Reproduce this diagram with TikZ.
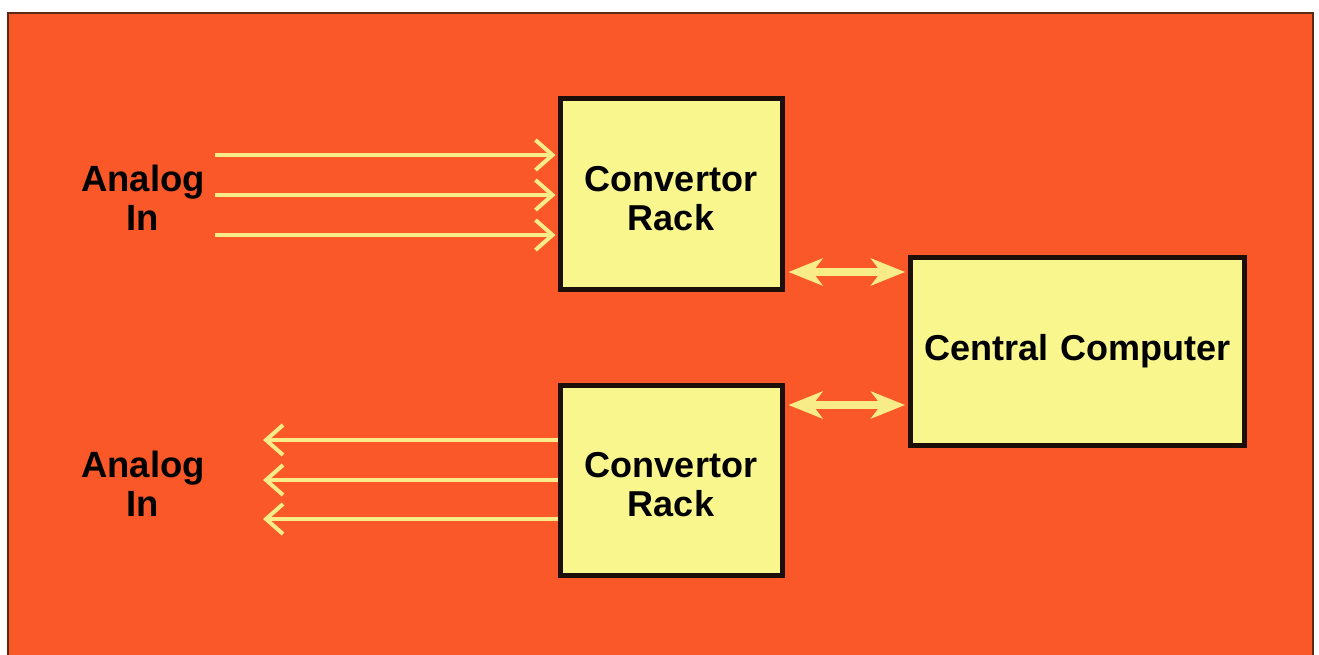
\documentclass[tikz,border=0pt]{standalone}
\usepackage{fontspec}
\setmainfont{Liberation Sans}
\usetikzlibrary{arrows.meta}

\definecolor{panel}{HTML}{FA5828}
\definecolor{panelrim}{HTML}{5A2A14}
\definecolor{boxfill}{HTML}{FAF68E}
\definecolor{boxrim}{HTML}{1C0E08}
\definecolor{wire}{HTML}{F7EC88}

\tikzset{
  unit/.style={draw=boxrim, fill=boxfill, line width=5pt, align=center,
    font=\bfseries\fontsize{36}{39}\selectfont, inner sep=0pt},
  caption/.style={align=center, font=\bfseries\fontsize{36.5}{39}\selectfont,
    text=black, inner sep=0pt},
  signal/.style={draw=wire, line width=3.5pt,
    -{Straight Barb[length=17pt, width=30pt, line width=4pt]}},
  link/.style={draw=wire, line width=8pt,
    {Stealth[length=34pt, width=27pt, inset=10pt]}-{Stealth[length=34pt, width=27pt, inset=10pt]}}
}

\begin{document}
\begin{tikzpicture}[x=1pt, y=-1pt]
  \useasboundingbox (0,0) rectangle (1319,655);
  \clip (0,0) rectangle (1319,655);
  \fill[white] (0,0) rectangle (1319,655);
  \draw[fill=panel, draw=panelrim, line width=1.2pt] (8,13) rectangle (1313,690);

  % converter racks and the central computer
  \node[unit, minimum width=222pt, minimum height=190pt] (rackIn) at (671,194)
    {\rule{0pt}{35pt}Convertor\\Rack};
  \node[unit, minimum width=222pt, minimum height=190pt] (rackOut) at (671,480)
    {\rule{0pt}{35pt}Convertor\\Rack};
  \node[unit, minimum width=334pt, minimum height=188pt] (cpu) at (1077.5,351.5)
    {Central\hspace{0.36em}Computer};

  % side captions
  \node[caption] (capIn) at (143,198) {Analog\\In};
  \node[caption] (capOut) at (143,484) {Analog\\In};

  % incoming analog lines
  \coordinate (i1) at (215,155);
  \coordinate (i2) at (215,195);
  \coordinate (i3) at (215,235);
  \foreach \c in {i1,i2,i3}
    \draw[signal, shorten >=2pt] (\c) -- (\c -| rackIn.west);

  % outgoing analog lines
  \coordinate (o1) at (261,440);
  \coordinate (o2) at (261,480);
  \coordinate (o3) at (261,519);
  \foreach \c in {o1,o2,o3}
    \draw[signal, shorten >=2pt] (\c -| rackOut.west) -- (\c);

  % rack to computer links
  \coordinate (l1) at (0,272);
  \coordinate (l2) at (0,405);
  \draw[link, shorten <=4pt, shorten >=3pt] (l1 -| rackIn.east) -- (l1 -| cpu.west);
  \draw[link, shorten <=4pt, shorten >=3pt] (l2 -| rackOut.east) -- (l2 -| cpu.west);
\end{tikzpicture}
\end{document}
